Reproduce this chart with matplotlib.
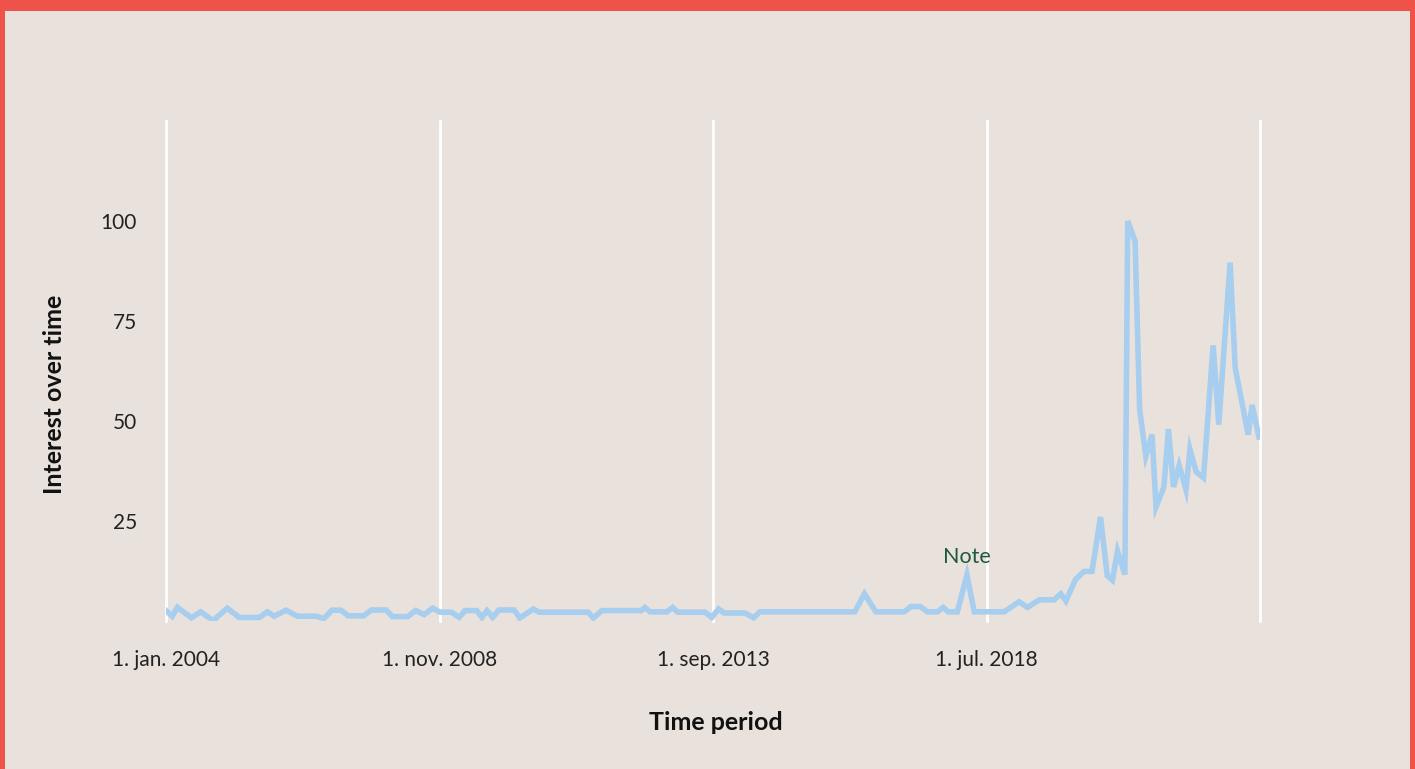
import matplotlib
matplotlib.use("Agg")
import matplotlib.pyplot as plt
from matplotlib.patches import Rectangle
import pandas as pd

# ---- data (decimal years, interest values) ----
years = [2004.00, 2004.11, 2004.20, 2004.45, 2004.61, 2004.83, 2005.08, 2005.29, 2005.65, 2005.79,
         2005.91, 2006.12, 2006.32, 2006.66, 2006.79, 2006.93, 2007.09, 2007.22, 2007.49, 2007.63,
         2007.89, 2008.00, 2008.27, 2008.41, 2008.56, 2008.71, 2008.84, 2009.04, 2009.18, 2009.28,
         2009.49, 2009.58, 2009.67, 2009.77, 2009.88, 2010.15, 2010.25, 2010.49, 2010.59, 2011.46,
         2011.55, 2011.70, 2012.40, 2012.46, 2012.55, 2012.85, 2012.95, 2013.04, 2013.52, 2013.64,
         2013.76, 2013.86, 2014.23, 2014.38, 2014.49, 2016.17, 2016.34, 2016.54, 2017.04, 2017.16,
         2017.33, 2017.45, 2017.63, 2017.73, 2017.82, 2017.98, 2018.15, 2018.28, 2018.81, 2019.07,
         2019.22, 2019.43, 2019.69, 2019.81, 2019.90, 2020.07, 2020.22, 2020.36, 2020.51, 2020.63,
         2020.72, 2020.81, 2020.94, 2020.99, 2021.12, 2021.20, 2021.31, 2021.42, 2021.49, 2021.63,
         2021.71, 2021.80, 2021.90, 2022.02, 2022.09, 2022.20, 2022.33, 2022.50, 2022.60, 2022.80,
         2022.89, 2023.12, 2023.19, 2023.31]
interest = [2.6, 1.2, 3.4, 0.8, 2.3, 0.1, 3.2, 0.9, 0.9, 2.3,
            1.2, 2.7, 1.2, 1.2, 0.6, 2.7, 2.7, 1.3, 1.3, 2.75,
            2.75, 1.1, 1.1, 2.6, 1.6, 3.2, 2.2, 2.2, 0.9, 2.6,
            2.6, 0.9, 2.6, 0.9, 2.75, 2.75, 0.75, 3.0, 2.2, 2.2,
            0.75, 2.6, 2.6, 3.4, 2.3, 2.3, 3.4, 2.2, 2.2, 0.9,
            3.0, 2.0, 2.0, 0.8, 2.3, 2.3, 6.8, 2.3, 2.3, 3.6,
            3.6, 2.3, 2.3, 3.4, 2.3, 2.3, 11.5, 2.3, 2.3, 4.8,
            3.4, 5.3, 5.3, 6.8, 5.0, 10.4, 12.4, 12.4, 26.0, 11.3,
            10.2, 17.5, 11.6, 100.0, 95.0, 53.0, 41.2, 46.6, 28.5, 33.5,
            48.0, 33.5, 38.9, 32.8, 42.9, 37.3, 35.8, 68.9, 49.1, 89.6,
            63.3, 46.6, 54.0, 46.0]

tick_dates = ["2004-01-01", "2008-11-01", "2013-09-01", "2018-07-01", "2023-05-01"]
tick_labels = ["1. jan. 2004", "1. nov. 2008", "1. sep. 2013", "1. jul. 2018", ""]
y_ticks = [25, 50, 75, 100]
note_year = 2018.15
note_value = 11.5
note_text = "Note"


def to_date(y):
    base = pd.Timestamp(int(y), 1, 1)
    nxt = pd.Timestamp(int(y) + 1, 1, 1)
    return base + (nxt - base) * (y - int(y))


dates = [to_date(y) for y in years]
tdates = [pd.Timestamp(d) for d in tick_dates]

plt.rcParams['font.family'] = ['Lato', 'DejaVu Sans']

BG = "#E9E2DC"
RED = "#EF5248"
W, H = 1415, 769

fig = plt.figure(figsize=(W / 100, H / 100), dpi=100, facecolor=RED)
fig.patches.append(Rectangle((5 / W, 0), (W - 10) / W, (H - 11) / H,
                             transform=fig.transFigure, facecolor=BG, edgecolor="none", zorder=-10))

ax = fig.add_axes([166 / W, (H - 621) / H, 1094 / W, 500 / H])
ax.set_zorder(1)
ax.set_facecolor(BG)
for s in ax.spines.values():
    s.set_visible(False)

ax.set_xlim(tdates[0], tdates[-1])
ax.set_ylim(0, 125)

for d in tdates:
    ax.axvline(d, color="white", lw=2, zorder=1, clip_on=False)

ax.plot(dates, interest, color="#A7CDEF", lw=4, solid_joinstyle="miter", zorder=3)

ax.set_xticks(tdates)
ax.set_xticklabels(tick_labels, fontsize=15, color="#222222")
ax.set_yticks(y_ticks)
ax.set_yticklabels([str(v) for v in y_ticks], fontsize=15, color="#222222")
ax.tick_params(axis="both", length=0)
ax.tick_params(axis="x", pad=21)
ax.tick_params(axis="y", pad=21)

ax.annotate(note_text, xy=(to_date(note_year), note_value), xytext=(0, 6),
            textcoords="offset points", ha="center", va="bottom",
            fontsize=15.5, color="#1D5A3C")

fig.text(716 / W, 1 - 723 / H, "Time period", ha="center", va="center",
         fontsize=18, fontweight="bold", color="#111111")
fig.text(55 / W, 1 - 394 / H, "Interest over time", ha="center", va="center",
         rotation=90, fontsize=18, fontweight="bold", color="#111111")

fig.savefig("out.png", dpi=100, facecolor=RED)
